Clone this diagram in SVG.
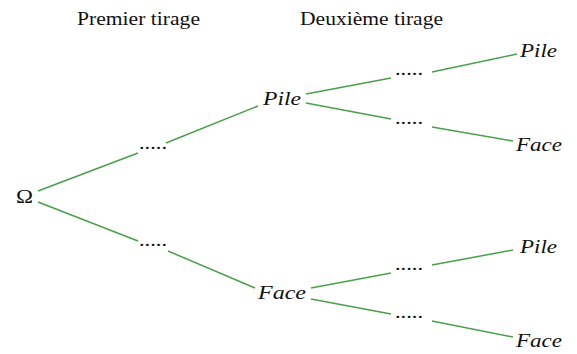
<svg xmlns="http://www.w3.org/2000/svg" width="577" height="354" viewBox="0 0 577 354">
<style>
.i{font-style:italic}
.e{stroke:#4aa04a;stroke-width:1.5;fill:none}
</style>
<rect width="577" height="354" fill="#fff"/>
<g font-family="Liberation Serif, DejaVu Serif, serif" font-size="18" fill="#111">
<text x="77" y="25" textLength="123" lengthAdjust="spacingAndGlyphs">Premier tirage</text>
<text x="300" y="25" textLength="143" lengthAdjust="spacingAndGlyphs">Deuxième tirage</text>
<g id="connectors">
<path class="e" d="M38 191 L138 153 M166 143 L258 106"/>
<path class="e" d="M38 202 L138 241 M168 251 L255 288"/>
<path class="e" d="M306 94 L391 78 M432 72 L517 54"/>
<path class="e" d="M306 103 L391 119 M432 127 L513 141"/>
<path class="e" d="M311 288 L391 273 M432 265 L513 250"/>
<path class="e" d="M311 299 L391 314 M432 321 L513 337"/>
</g>
<g id="omega"><text x="16" y="203" textLength="17" lengthAdjust="spacingAndGlyphs">Ω</text></g>
<g id="d1a"><text x="139" y="149" textLength="28" lengthAdjust="spacingAndGlyphs">.....</text></g>
<g id="d1b"><text x="139" y="246" textLength="28" lengthAdjust="spacingAndGlyphs">.....</text></g>
<g id="pile1"><text class="i" x="263" y="105" textLength="38" lengthAdjust="spacingAndGlyphs">Pile</text></g>
<g id="face1"><text class="i" x="258" y="299" textLength="48" lengthAdjust="spacingAndGlyphs">Face</text></g>
<g id="d2a"><text x="395" y="75" textLength="28" lengthAdjust="spacingAndGlyphs">.....</text></g>
<g id="d2b"><text x="395" y="124" textLength="28" lengthAdjust="spacingAndGlyphs">.....</text></g>
<g id="d2c"><text x="395" y="270" textLength="28" lengthAdjust="spacingAndGlyphs">.....</text></g>
<g id="d2d"><text x="395" y="318" textLength="28" lengthAdjust="spacingAndGlyphs">.....</text></g>
<g id="pile2a"><text class="i" x="520" y="57" textLength="37" lengthAdjust="spacingAndGlyphs">Pile</text></g>
<g id="face2b"><text class="i" x="516" y="151" textLength="46" lengthAdjust="spacingAndGlyphs">Face</text></g>
<g id="pile2c"><text class="i" x="520" y="253" textLength="37" lengthAdjust="spacingAndGlyphs">Pile</text></g>
<g id="face2d"><text class="i" x="516" y="347" textLength="46" lengthAdjust="spacingAndGlyphs">Face</text></g>
</g>
</svg>
